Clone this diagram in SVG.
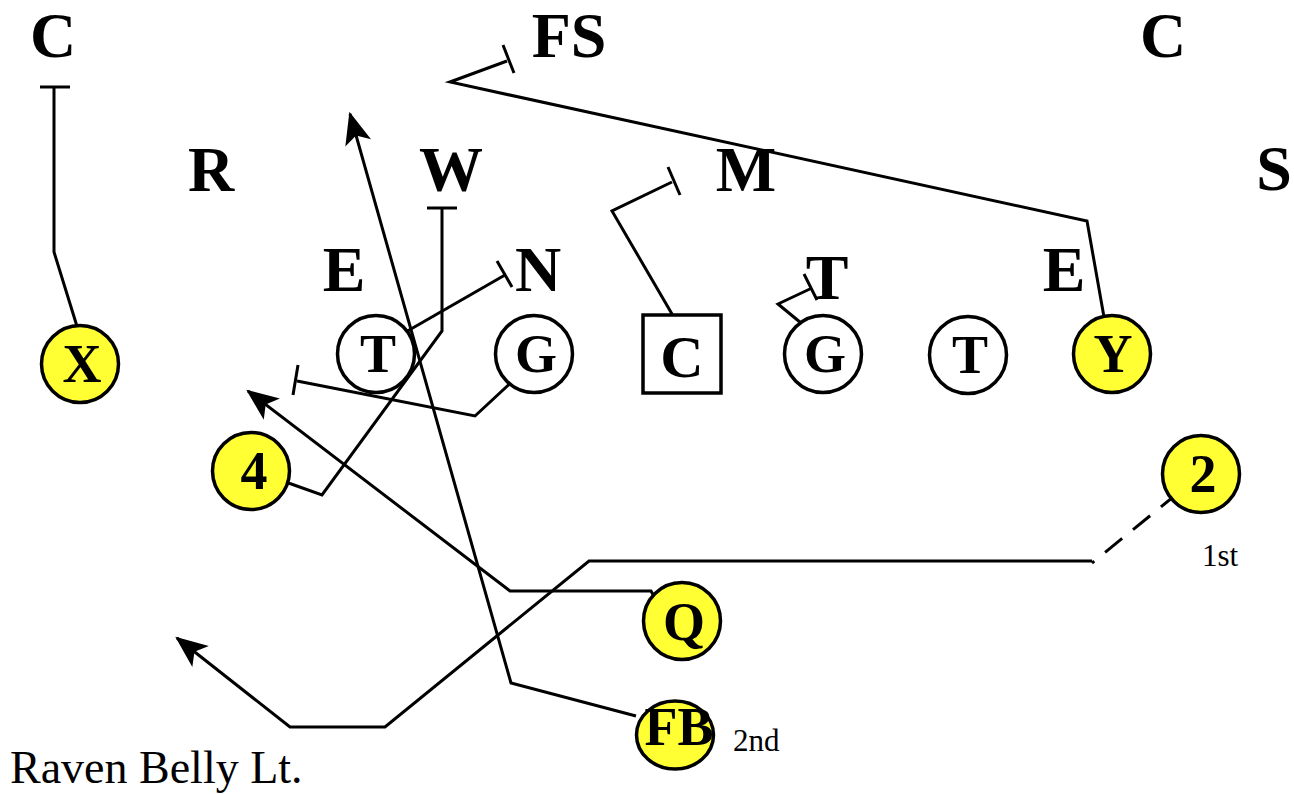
<svg xmlns="http://www.w3.org/2000/svg" width="1294" height="794" viewBox="0 0 1294 794">
<style>
.d{font-family:"Liberation Serif","Times New Roman",serif;font-weight:bold;font-size:64px;text-anchor:middle;fill:#000}
.o{font-family:"Liberation Serif","Times New Roman",serif;font-weight:bold;font-size:54px;text-anchor:middle;fill:#000}
.s{font-family:"Liberation Serif","Times New Roman",serif;font-size:31px;fill:#000}
.t{font-family:"Liberation Serif","Times New Roman",serif;font-size:46px;fill:#000}
.y{fill:#ffff33;stroke:#000;stroke-width:3.5}
.w{fill:#fff;stroke:#000;stroke-width:3.5}
.r{fill:none;stroke:#000;stroke-width:3;stroke-linejoin:miter}
.a{marker-end:url(#ah)}
</style>
<defs>
<marker id="ah" markerUnits="userSpaceOnUse" markerWidth="40" markerHeight="40" viewBox="-32 -16 36 32" refX="-2" refY="0" orient="auto">
<path d="M0,0 L-29,-12 L-22,0 L-29,12 Z" fill="#000"/>
</marker>
</defs>
<rect width="1294" height="794" fill="#fff"/>

<g id="connectors">
<path class="r" d="M80,336 L54,252 L54,87"/>
<path class="r" d="M40,87 L70,87"/>
<path class="r" d="M1104,317 L1087,221 L450,82 L507,61"/>
<path class="r" d="M503,45 L514,73"/>
<path class="r" d="M679,326 L612,211 L672,182"/>
<path class="r" d="M668,167 L680,195"/>
<path class="r" d="M812,332 L778,304 L812,288"/>
<path class="r" d="M804,274 L817,300"/>
<path class="r" d="M404,333 L505,275"/>
<path class="r" d="M497,261 L512,287"/>
<path class="r" d="M280,480 L322,495 L442,331 L442,208"/>
<path class="r" d="M427,208 L457,208"/>
<path class="r" d="M517,377 L475,416 L297,381"/>
<path class="r" d="M298,365 L293,395"/>
<path class="r a" d="M636,716 L511,683 L350,114"/>
<path class="r a" d="M660,607 L651,591 L510,591 L248,391"/>
<path class="r" d="M1178,493 L1092,563" stroke-dasharray="22,14"/>
<path class="r a" d="M1092,561 L589,561 L385,727 L290,727 L177,638"/>
</g>

<g id="def-C-left"><text class="d" x="53" y="57">C</text></g>
<g id="def-FS"><text class="d" x="569" y="57">FS</text></g>
<g id="def-C-right"><text class="d" x="1163" y="57">C</text></g>
<g id="def-R"><text class="d" x="211" y="191">R</text></g>
<g id="def-W"><text class="d" x="451" y="191">W</text></g>
<g id="def-M"><text class="d" x="746" y="191">M</text></g>
<g id="def-S"><text class="d" x="1274" y="190">S</text></g>
<g id="def-E-left"><text class="d" x="344" y="291">E</text></g>
<g id="def-N"><text class="d" x="538" y="291">N</text></g>
<g id="def-T"><text class="d" x="827" y="299">T</text></g>
<g id="def-E-right"><text class="d" x="1064" y="291">E</text></g>

<g id="off-X"><circle class="y" cx="80" cy="364" r="38.5"/><text class="o" x="82" y="382">X</text></g>
<g id="off-LT"><circle class="w" cx="376" cy="354" r="38.5"/><text class="o" x="378" y="372">T</text></g>
<g id="off-LG"><circle class="w" cx="534" cy="354" r="38.5"/><text class="o" x="536" y="372">G</text></g>
<g id="off-C"><rect class="w" x="643" y="315" width="78" height="78"/><text class="o" x="682" y="377" style="font-size:60px">C</text></g>
<g id="off-RG"><circle class="w" cx="823" cy="354" r="38.5"/><text class="o" x="825" y="372">G</text></g>
<g id="off-RT"><circle class="w" cx="968" cy="355" r="38.5"/><text class="o" x="970" y="373">T</text></g>
<g id="off-Y"><circle class="y" cx="1112" cy="354" r="38.5"/><text class="o" x="1113" y="372">Y</text></g>
<g id="off-4"><circle class="y" cx="251" cy="471" r="38.5"/><text class="o" x="254" y="489">4</text></g>
<g id="off-2"><circle class="y" cx="1201" cy="474" r="38.5"/><text class="o" x="1203" y="492">2</text></g>
<g id="off-Q"><circle class="y" cx="682" cy="621" r="38.5"/><text class="o" x="684" y="640">Q</text></g>
<g id="off-FB"><ellipse class="y" cx="675" cy="735" rx="38.5" ry="34"/><text class="o" x="679" y="745">FB</text></g>

<g id="labels">
<text class="s" x="1202" y="566">1st</text>
<text class="s" x="733" y="751">2nd</text>
<text class="t" x="10" y="783">Raven Belly Lt.</text>
</g>
</svg>
